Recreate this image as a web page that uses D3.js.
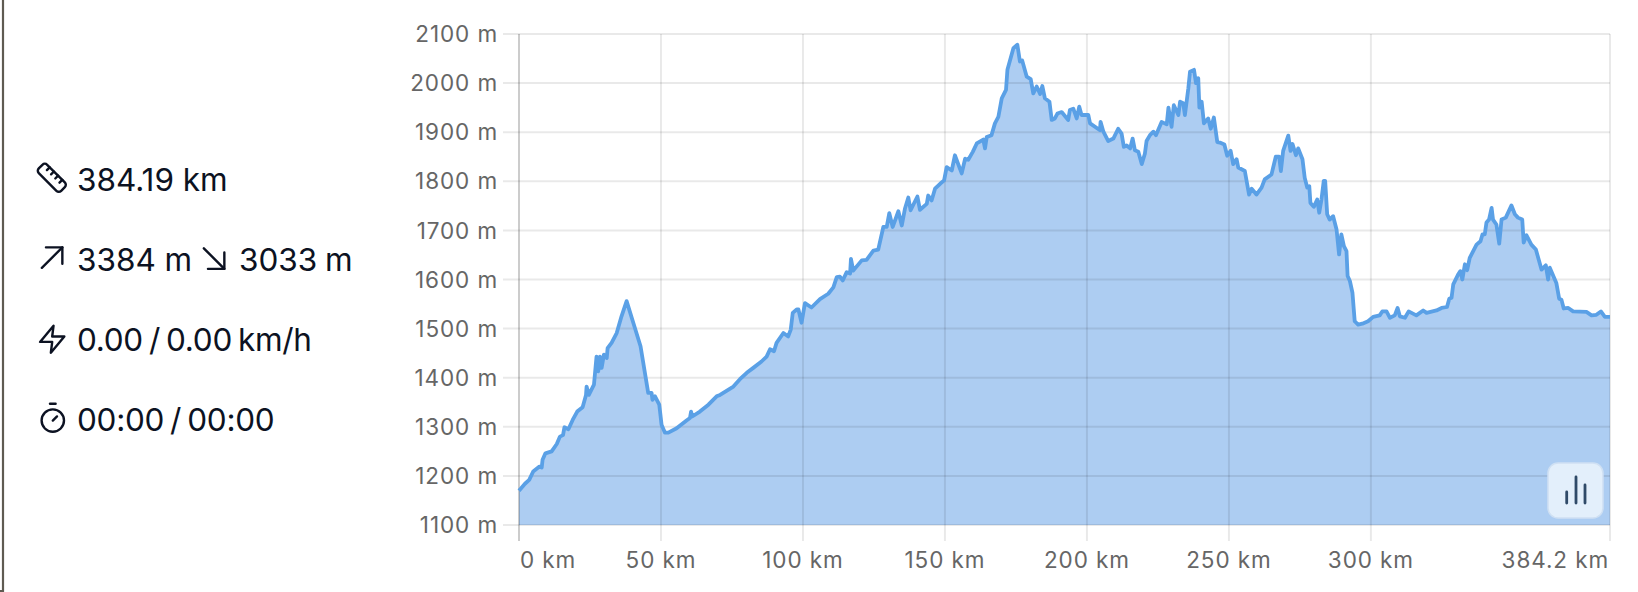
<!DOCTYPE html>
<html>
<head>
<meta charset="utf-8">
<script src="https://cdn.jsdelivr.net/npm/d3@7"></script>
<style>
  html, body { margin: 0; padding: 0; background: #fff; overflow: hidden; }
  text { font-family: Inter, "Noto Sans", sans-serif; }
</style>
</head>
<body>
<script>
"use strict";

// Data

let km = [0, 2.1, 3.6, 5, 7.2, 8, 8.3, 9.3, 11.5, 13.3, 14.4, 15.5, 16, 17.4, 18.9, 20.5, 22.4, 23.6, 23.8, 24.6, 26.4, 27.3, 27.9, 28.5, 29.1, 29.9, 30.9, 31.2, 32.6, 34.4, 36.1, 37.9, 40.3, 42.8, 45.5, 46.7, 47, 47.9, 49.4, 50.2, 51.4, 52.6, 55.5, 59, 60.2, 60.6, 61, 63.7, 66.7, 69.6, 70.8, 75.5, 77.8, 80.2, 82.5, 85.4, 87.2, 88.4, 89.8, 90.7, 93.1, 94.8, 95.7, 96.4, 97.8, 98.4, 99.5, 100.7, 103, 106, 108.9, 110.7, 111.9, 113, 114, 115.4, 116.6, 116.9, 117.7, 120.7, 122.4, 124.8, 126.5, 128.3, 129.5, 130.4, 131.6, 133.6, 134.8, 135.9, 137.1, 137.9, 140.3, 141.2, 143.6, 144.1, 145.3, 146.5, 148.3, 149.7, 150.6, 152.4, 153.5, 155.9, 157.1, 158.2, 159.8, 161.2, 163.5, 164.1, 164.7, 166.4, 167.6, 168.8, 170, 171.5, 172, 174.1, 175.5, 176.4, 177.2, 178.8, 180.2, 181.1, 182.3, 183.5, 184.3, 185.2, 186.8, 187.6, 188.7, 189.6, 191.1, 193.4, 194, 195.2, 196.4, 197.3, 198.1, 200.5, 201.1, 204.6, 204.8, 205.8, 207.5, 209.3, 211, 212.2, 213, 214, 215.2, 216.1, 216.9, 218.1, 219.3, 220.4, 221, 222.2, 223.4, 224.3, 226.3, 228.1, 228.7, 229.8, 230.6, 232.2, 232.8, 233.9, 234.5, 235.7, 236.3, 237.7, 238.4, 239.2, 239.6, 240.4, 241.2, 242.7, 243.6, 244.7, 245.9, 246.8, 248.4, 249.4, 250.6, 251.5, 252.7, 253.3, 255.6, 257.1, 258, 259.7, 261.5, 262.6, 265, 266.5, 267.7, 268.3, 269.1, 270.9, 271.7, 272.4, 273.6, 274.4, 275.9, 276.7, 277.6, 278.3, 278.7, 279.9, 281.1, 281.8, 282.6, 283.4, 283.9, 284.6, 285.5, 286.7, 287.9, 288.8, 289.6, 290.5, 291.4, 291.8, 292.6, 293.5, 294.3, 295.5, 297, 299, 300.8, 303.1, 304, 305.5, 306.7, 308.4, 309.4, 310.2, 312, 313.3, 316, 318.4, 319.6, 323.1, 324.9, 326.8, 327.6, 328.4, 329, 330.7, 331.5, 332.2, 333.1, 333.9, 334.8, 337.2, 338.6, 339.3, 340.1, 340.7, 341.6, 342.5, 343, 344.2, 345.2, 346, 347.5, 349.5, 350.7, 351.8, 353.3, 353.8, 354.8, 356.5, 358.1, 360.1, 361.6, 362.4, 363, 365.3, 366.3, 367.1, 367.9, 369.5, 371.2, 375.9, 377.7, 379.4, 381, 382.4, 384.2];
let elevation = [1170, 1184, 1192, 1209, 1219, 1217, 1233, 1246, 1250, 1265, 1280, 1283, 1299, 1295, 1314, 1331, 1340, 1365, 1382, 1365, 1386, 1443, 1413, 1443, 1420, 1447, 1440, 1460, 1471, 1491, 1525, 1556, 1511, 1464, 1369, 1369, 1355, 1362, 1345, 1304, 1288, 1288, 1297, 1313, 1318, 1331, 1321, 1331, 1345, 1362, 1365, 1382, 1397, 1410, 1420, 1433, 1443, 1458, 1454, 1471, 1491, 1484, 1498, 1532, 1539, 1539, 1512, 1552, 1543, 1560, 1571, 1584, 1605, 1606, 1598, 1615, 1612, 1642, 1618, 1639, 1640, 1659, 1661, 1707, 1707, 1735, 1707, 1739, 1710, 1744, 1767, 1741, 1769, 1742, 1754, 1771, 1761, 1785, 1795, 1802, 1829, 1822, 1853, 1816, 1846, 1844, 1860, 1877, 1885, 1867, 1890, 1894, 1918, 1931, 1969, 1986, 2027, 2071, 2078, 2044, 2046, 2013, 2008, 1979, 1993, 1978, 1994, 1969, 1962, 1925, 1928, 1938, 1941, 1925, 1945, 1948, 1928, 1952, 1935, 1935, 1918, 1904, 1921, 1901, 1882, 1887, 1907, 1897, 1870, 1873, 1867, 1887, 1863, 1860, 1835, 1856, 1882, 1894, 1901, 1894, 1921, 1916, 1950, 1911, 1955, 1935, 1962, 1959, 1935, 1989, 2023, 2027, 2000, 2010, 1950, 1962, 1918, 1928, 1907, 1930, 1880, 1879, 1875, 1852, 1862, 1835, 1845, 1828, 1821, 1773, 1785, 1773, 1787, 1804, 1814, 1850, 1850, 1821, 1862, 1893, 1862, 1876, 1853, 1867, 1845, 1807, 1787, 1790, 1756, 1748, 1763, 1736, 1763, 1801, 1801, 1733, 1722, 1729, 1702, 1651, 1692, 1668, 1658, 1607, 1597, 1573, 1515, 1508, 1510, 1515, 1524, 1527, 1535, 1535, 1522, 1527, 1542, 1525, 1522, 1535, 1527, 1537, 1532, 1537, 1542, 1544, 1561, 1563, 1590, 1610, 1617, 1600, 1631, 1619, 1644, 1671, 1678, 1692, 1692, 1716, 1722, 1746, 1722, 1712, 1673, 1722, 1726, 1751, 1733, 1726, 1722, 1675, 1690, 1671, 1661, 1620, 1629, 1600, 1624, 1593, 1561, 1559, 1541, 1542, 1535, 1534, 1527, 1528, 1535, 1524, 1524];

let xTicks = [0, 50, 100, 150, 200, 250, 300, 384.2];
let yTicks = [1100, 1200, 1300, 1400, 1500, 1600, 1700, 1800, 1900, 2000, 2100];

let stats = ["384.19 km", "3384 m", "3033 m", "0.00 / 0.00 km/h", "00:00 / 00:00"];

// Page

let svgWidth = 1638;
let svgHeight = 592;
let margin = {top: 34, right: 28, bottom: 67, left: 519};
let width = svgWidth - margin.left - margin.right;
let height = svgHeight - margin.top - margin.bottom;

let svg = d3.select("body").append("svg")
    .attr("width", svgWidth)
    .attr("height", svgHeight)
    .style("display", "block");

// Left edge of the screenshot
svg.append("line")
    .attr("x1", 3).attr("x2", 3)
    .attr("y1", 0).attr("y2", svgHeight)
    .attr("stroke", "#5f5b52")
    .attr("stroke-width", 2.2);

svg.append("line")
    .attr("x1", 0).attr("x2", 4)
    .attr("y1", 591).attr("y2", 591)
    .attr("stroke", "#5f5b52")
    .attr("stroke-width", 2);

// Scales

let xScale = d3.scaleLinear()
    .domain([0, 384.2])
    .range([0, width]);

let yScale = d3.scaleLinear()
    .domain([1100, 2100])
    .range([height, 0]);

let g = svg.append("g")
    .attr("transform", `translate(${margin.left}, ${margin.top})`);

// Area goes under the grid, the line above it

let area = d3.area()
    .x((d, i) => xScale(km[i]))
    .y0(height)
    .y1(d => yScale(d));

let line = d3.line()
    .x((d, i) => xScale(km[i]))
    .y(d => yScale(d));

g.append("path")
    .datum(elevation)
    .attr("d", area)
    .attr("fill", "#4a90e2")
    .attr("fill-opacity", 0.45);

// Axes

let xAxis = d3.axisBottom(xScale)
    .tickValues(xTicks)
    .tickFormat(d => d + " km")
    .tickSize(-height)
    .offset(0);

let yAxis = d3.axisLeft(yScale)
    .tickValues(yTicks)
    .tickFormat(d => d + " m")
    .tickSize(16)
    .offset(0);

let gx = g.append("g")
    .attr("transform", `translate(0, ${height})`)
    .call(xAxis);

let gy = g.append("g")
    .call(yAxis);

gx.selectAll(".domain").remove();
gy.selectAll(".domain").remove();

// vertical grid runs on past the bottom as a tick stub
gx.selectAll(".tick line")
    .attr("y1", 16)
    .attr("y2", -height)
    .style("stroke", d => d === 0 ? "rgba(0,0,0,0.2)" : "rgba(0,0,0,0.085)")
    .style("stroke-width", 2);

gy.selectAll(".tick line")
    .attr("x1", -16)
    .attr("x2", width)
    .style("stroke", "rgba(0,0,0,0.085)")
    .style("stroke-width", 2);

// first label starts at the axis, middle ones centre on their tick, last one ends at the edge
gx.selectAll(".tick text")
    .style("fill", "#666")
    .style("font-size", "22.5px")
    .style("letter-spacing", "0.9px")
    .attr("y", 43)
    .attr("dy", 0)
    .attr("text-anchor", (d, i) => i === 0 ? "start" : i === xTicks.length - 1 ? "end" : "middle")
    .attr("x", (d, i) => i === 0 ? 1 : i === xTicks.length - 1 ? -1 : 0);

gy.selectAll(".tick text")
    .style("fill", "#666")
    .style("font-size", "22.5px")
    .style("letter-spacing", "0.9px")
    .attr("x", -21)
    .attr("dy", "0.36em");

g.append("path")
    .datum(elevation)
    .attr("d", line)
    .attr("fill", "none")
    .attr("stroke", "#5aa0e6")
    .attr("stroke-width", 3.8)
    .attr("stroke-linejoin", "round");

// Toggle button, bottom right of the plot

let button = g.append("g")
    .attr("transform", `translate(${width - 62}, ${height - 62})`);

button.append("rect")
    .attr("width", 55)
    .attr("height", 55)
    .attr("rx", 10)
    .attr("fill", "#e3effb")
    .attr("stroke", "#cfe0f3")
    .attr("stroke-width", 1.5);

button.selectAll("line")
    .data([[18.7, 29, 40], [28, 14, 40], [37, 22, 40]])
    .join("line")
    .attr("x1", d => d[0]).attr("x2", d => d[0])
    .attr("y1", d => d[1]).attr("y2", d => d[2])
    .attr("stroke", "#2f4a68")
    .attr("stroke-width", 2.8)
    .attr("stroke-linecap", "round");

// Stats on the left

let textColor = "#0c1222";

function statText(x, y, s, wordSpacing, letterSpacing) {
    return svg.append("text")
        .attr("x", x)
        .attr("y", y)
        .attr("fill", textColor)
        .style("font-size", "31.5px")
        .style("word-spacing", (wordSpacing || 0) + "px")
        .style("letter-spacing", (letterSpacing || 0) + "px")
        .text(s);
}

function icon(x, y, scale, draw) {
    let ig = svg.append("g")
        .attr("transform", `translate(${x}, ${y}) scale(${scale})`)
        .attr("fill", "none")
        .attr("stroke", textColor)
        .attr("stroke-width", 2.4 / scale)
        .attr("stroke-linecap", "round")
        .attr("stroke-linejoin", "round");
    draw.forEach(d => ig.append("path").attr("d", d));
}

// lucide style icons
icon(35, 161, 1.4, ["M21.3 15.3a2.4 2.4 0 0 1 0 3.4l-2.6 2.6a2.4 2.4 0 0 1-3.4 0L2.7 8.7a2.41 2.41 0 0 1 0-3.4l2.6-2.6a2.41 2.41 0 0 1 3.4 0Z", "m14.5 12.5 2-2", "m11.5 9.5 2-2", "m8.5 6.5 2-2", "m17.5 15.5 2-2"]);
icon(27.5, 233, 2.05, ["M9 7h8v8", "M7 17 17 7"]);
icon(189.5, 234, 2.05, ["m7 7 10 10", "M17 9v8H9"]);
icon(36, 323, 1.35, ["M13 2 3 14h9l-1 8 10-12h-9l1-8z"]);
icon(36, 401, 1.4, ["M10 2h4", "M12 14l3-3", "M12 22a8 8 0 1 0 0-16 8 8 0 0 0 0 16z"]);

statText(77, 191, stats[0]);
statText(77, 271, stats[1]);
statText(239, 271, stats[2], -1);
statText(77, 351, stats[3], -2.5, -0.3);
statText(77, 431, stats[4], -2.5, -0.3);
</script>
</body>
</html>
